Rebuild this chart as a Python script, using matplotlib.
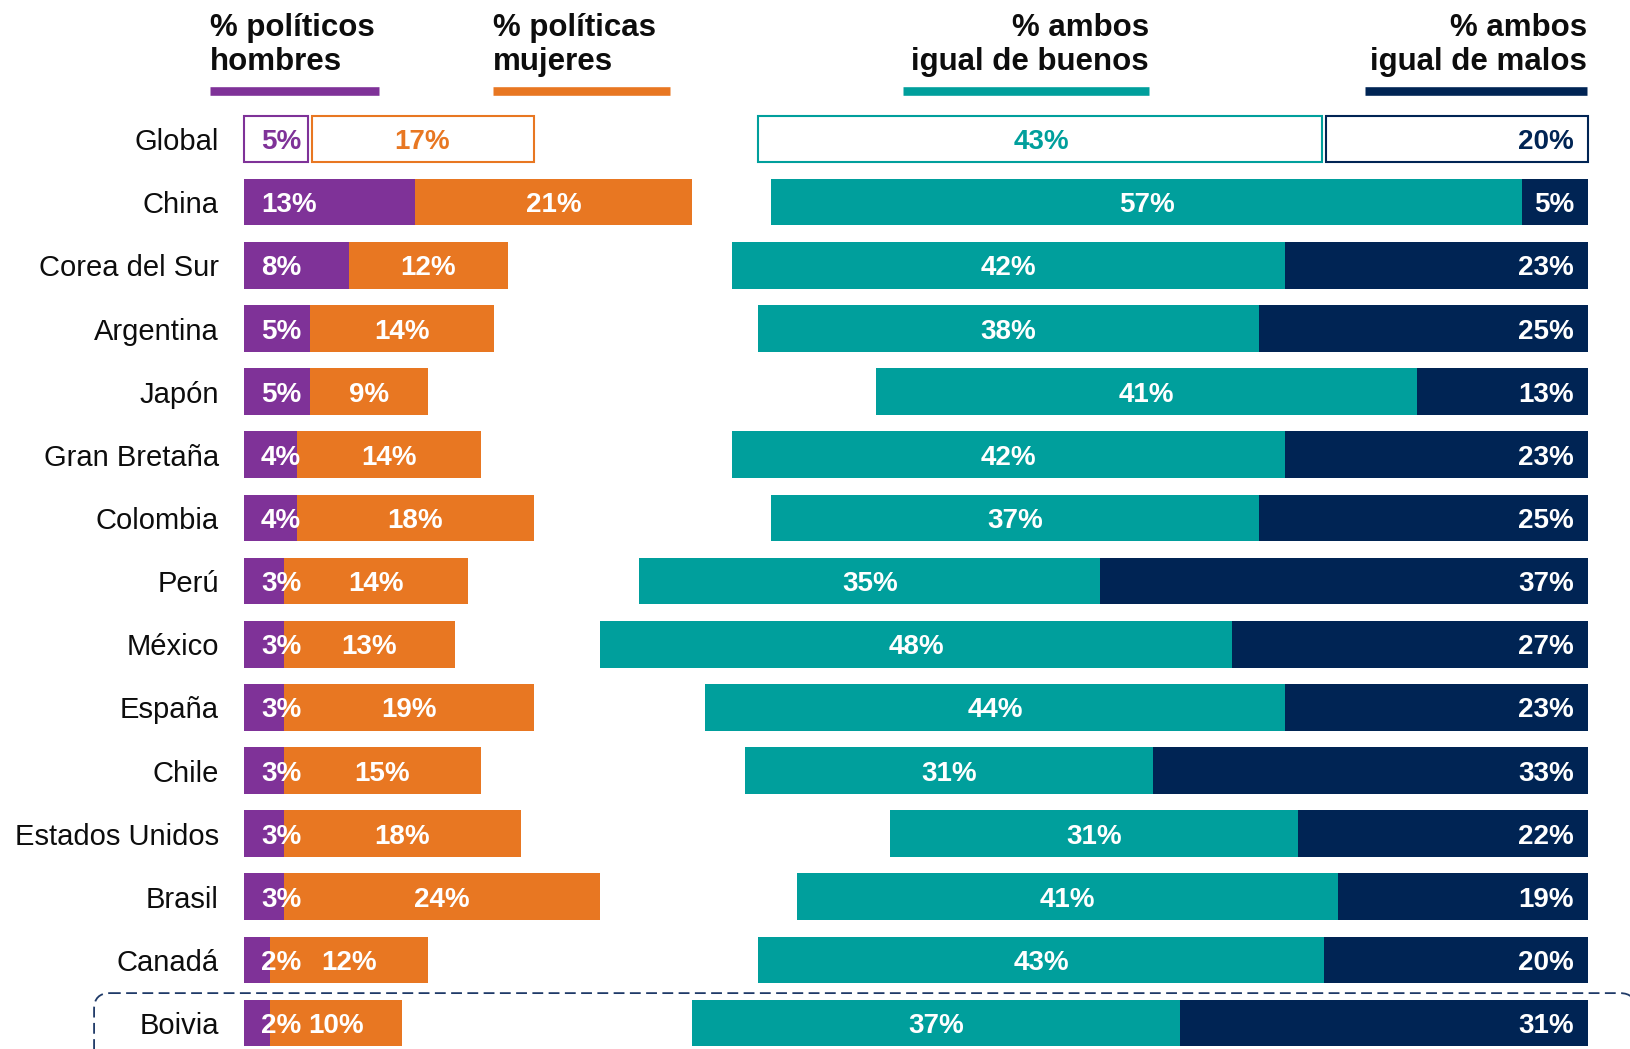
import numpy as np
import matplotlib.pyplot as plt
from matplotlib.patches import FancyBboxPatch

plt.rcParams['font.family'] = ['Liberation Sans', 'DejaVu Sans']

countries = ["Global", "China", "Corea del Sur", "Argentina", "Japón", "Gran Bretaña",
             "Colombia", "Perú", "México", "España", "Chile", "Estados Unidos",
             "Brasil", "Canadá", "Boivia"]
hombres = [5, 13, 8, 5, 5, 4, 4, 3, 3, 3, 3, 3, 3, 2, 2]
mujeres = [17, 21, 12, 14, 9, 14, 18, 14, 13, 19, 15, 18, 24, 12, 10]
buenos = [43, 57, 42, 38, 41, 42, 37, 35, 48, 44, 31, 31, 41, 43, 37]
malos = [20, 5, 23, 25, 13, 23, 25, 37, 27, 23, 33, 22, 19, 20, 31]

PURPLE = "#7F3298"
ORANGE = "#E87722"
TEAL = "#009F9C"
NAVY = "#002454"

R = 102  # right edge where the right group ends
H = 0.74
dy = 0.05  # nudge text to visual centre of bars

fig = plt.figure(figsize=(16.3, 10.49), dpi=100)
ax = fig.add_axes([0, 0, 1, 1])
ax.set_xlim(-18.52, 105.19)
ax.set_ylim(14.41, -2.2)
ax.axis('off')

h = np.array(hombres, float)
m = np.array(mujeres, float)
b = np.array(buenos, float)
w = np.array(malos, float)
y = np.arange(len(countries))

# filled rows
ax.barh(y[1:], h[1:], left=0, height=H, color=PURPLE)
ax.barh(y[1:], m[1:], left=h[1:], height=H, color=ORANGE)
ax.barh(y[1:], b[1:], left=R - w[1:] - b[1:], height=H, color=TEAL)
ax.barh(y[1:], w[1:], left=R - w[1:], height=H, color=NAVY)

# global row: outlined boxes
g = 0.15
ax.barh(0, h[0] - g, left=0, height=H, facecolor='white', edgecolor=PURPLE, lw=1.5)
ax.barh(0, m[0] - g, left=h[0] + g, height=H, facecolor='white', edgecolor=ORANGE, lw=1.5)
ax.barh(0, b[0] - g, left=R - w[0] - b[0], height=H, facecolor='white', edgecolor=TEAL, lw=1.5)
ax.barh(0, w[0] - g, left=R - w[0] + g, height=H, facecolor='white', edgecolor=NAVY, lw=1.5)

lab = dict(fontsize=20, fontweight='bold', va='center')
for i in y:
    c = 'white' if i > 0 else None
    yt = i + dy
    ax.text(1.29, yt, f"{hombres[i]}%", ha='left', color=c or PURPLE, **lab)
    ax.text(h[i] + m[i] / 2, yt, f"{mujeres[i]}%", ha='center', color=c or ORANGE, **lab)
    ax.text(R - w[i] - b[i] / 2, yt, f"{buenos[i]}%", ha='center', color=c or TEAL, **lab)
    ax.text(R - 1.06, yt, f"{malos[i]}%", ha='right', color=c or NAVY, **lab)
    ax.text(-1.9, yt, countries[i], ha='right', va='center', fontsize=21, color='#0d0d0d')

# headers
hdr = dict(fontsize=22.5, fontweight='bold', va='baseline', color='#0d0d0d')
headers = [("% políticos", "hombres", -2.58, 10.25, 'left', PURPLE),
           ("% políticas", "mujeres", 18.9, 32.33, 'left', ORANGE),
           ("% ambos", "igual de buenos", 50.0, 68.69, 'right', TEAL),
           ("% ambos", "igual de malos", 85.08, 101.9, 'right', NAVY)]
for l1, l2, x0, x1, ha, col in headers:
    xt = x0 if ha == 'left' else x1
    ax.text(xt, -1.625, l1, ha=ha, **hdr)
    ax.text(xt, -1.099, l2, ha=ha, **hdr)
    ax.plot([x0, x1], [-0.76, -0.76], color=col, lw=6.2, solid_capstyle='butt')

# dashed highlight around last row
box = FancyBboxPatch((-11.38, 13.525), 117, 1.5,
                     boxstyle="round,pad=0,rounding_size=1.2",
                     mutation_aspect=0.2087, fill=False, edgecolor="#1F3A68",
                     lw=1.3, linestyle=(0, (6, 3)), clip_on=False)
ax.add_patch(box)

fig.savefig("out.png", dpi=100)
